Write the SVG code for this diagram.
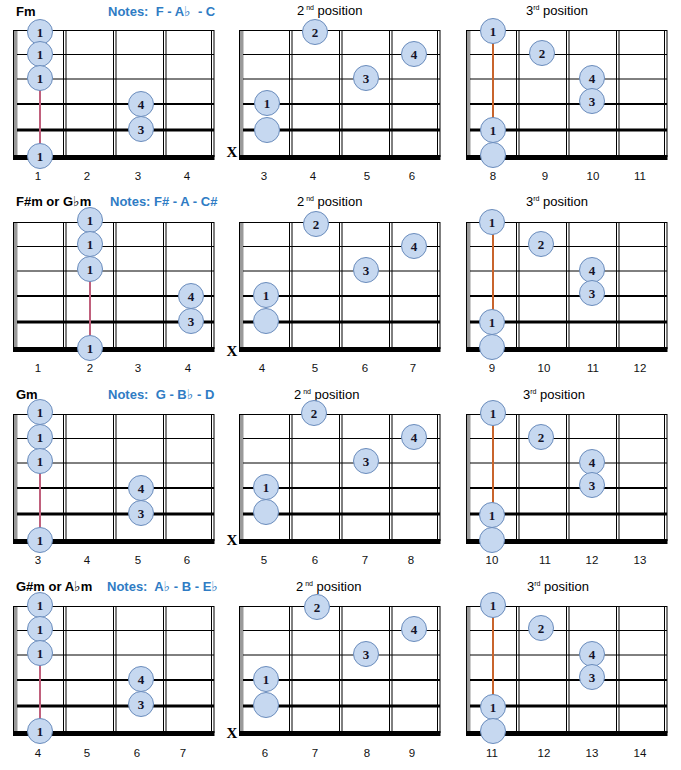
<svg xmlns="http://www.w3.org/2000/svg" xmlns:xlink="http://www.w3.org/1999/xlink" width="681" height="770" viewBox="0 0 681 770">
<style>
.bg{fill:#ffffff}
.str{stroke:#000;fill:none}
.fret{stroke:#000;stroke-width:1;fill:none}
.f{fill:#c6d8f0;stroke:#6a8cbc;stroke-width:1}
.n{font-family:"Liberation Serif",serif;font-weight:bold;font-size:13px;fill:#14142a;text-anchor:middle}
.t{font-family:"Liberation Sans",Arial,sans-serif;font-weight:bold;font-size:13px;fill:#000}
.notes{font-family:"Liberation Sans","DejaVu Sans",sans-serif;font-weight:bold;font-size:13px;fill:#2f7cc4}
.fl-b{font-family:"DejaVu Sans",sans-serif;font-weight:normal;font-size:14px}
.pos{font-family:"Liberation Sans",Arial,sans-serif;font-size:13px;fill:#000}
.sup{font-size:7px}
.fl{font-family:"Liberation Sans",Arial,sans-serif;font-size:11.5px;fill:#111;text-anchor:middle}
.x{font-family:"Liberation Serif",serif;font-weight:bold;font-size:15px;fill:#000;text-anchor:middle}
.barre1{stroke:#c0607c;stroke-width:2}
.barre3{stroke:#c8642c;stroke-width:2}
</style>
<defs>
<g id="grid">
<rect x="0.5" y="0" width="4" height="127" fill="#9a9a9a"/>
<line x1="0.5" y1="0" x2="0.5" y2="127" stroke="#000" stroke-width="1"/>
<line class="str" x1="0" y1="0.5" x2="201" y2="0.5" stroke-width="1.2"/>
<line class="str" x1="4" y1="24.5" x2="201" y2="24.5" stroke-width="1"/>
<line class="str" x1="4" y1="49" x2="201" y2="49" stroke-width="1"/>
<line class="str" x1="4" y1="74" x2="201" y2="74" stroke-width="2"/>
<line class="str" x1="4" y1="100" x2="201" y2="100" stroke-width="3"/>
<line class="fret" x1="50.5" y1="0" x2="50.5" y2="127"/>
<line class="fret" x1="53" y1="0" x2="53" y2="127"/>
<line class="fret" x1="100.5" y1="0" x2="100.5" y2="127"/>
<line class="fret" x1="103" y1="0" x2="103" y2="127"/>
<line class="fret" x1="150.5" y1="0" x2="150.5" y2="127"/>
<line class="fret" x1="153" y1="0" x2="153" y2="127"/>
<line class="fret" x1="198.5" y1="0" x2="198.5" y2="127"/>
<line class="fret" x1="201" y1="0" x2="201" y2="127"/>
<line class="str" x1="0" y1="127.5" x2="201.5" y2="127.5" stroke-width="5"/>
</g>
</defs>
<rect class="bg" x="0" y="0" width="681" height="770"/>

<g id="grids">
<use xlink:href="#grid" x="13" y="30"/>
<use xlink:href="#grid" x="239" y="30"/>
<use xlink:href="#grid" x="466" y="30"/>
<use xlink:href="#grid" x="13" y="222"/>
<use xlink:href="#grid" x="239" y="222"/>
<use xlink:href="#grid" x="466" y="222"/>
<use xlink:href="#grid" x="13" y="414"/>
<use xlink:href="#grid" x="239" y="414"/>
<use xlink:href="#grid" x="466" y="414"/>
<use xlink:href="#grid" x="13" y="606"/>
<use xlink:href="#grid" x="239" y="606"/>
<use xlink:href="#grid" x="466" y="606"/>
</g>

<g id="connectors">
<line class="barre1" x1="40" y1="78" x2="40" y2="156"/>
<line class="barre3" x1="493" y1="31" x2="493" y2="130"/>
<line class="barre1" x1="90" y1="270" x2="90" y2="348"/>
<line class="barre3" x1="493" y1="223" x2="493" y2="322"/>
<line class="barre1" x1="40" y1="462" x2="40" y2="540"/>
<line class="barre3" x1="493" y1="415" x2="493" y2="514"/>
<line class="barre1" x1="40" y1="654" x2="40" y2="732"/>
<line class="barre3" x1="493" y1="607" x2="493" y2="706"/>
</g>

<g id="titles">
<text class="t" x="16" y="16">Fm</text>
<text class="notes" x="108" y="16" xml:space="preserve">Notes:  F - A<tspan class="fl-b">♭</tspan>  - C</text>
<text class="pos" x="297" y="15">2<tspan class="sup" dy="-5"> nd</tspan><tspan dy="5"> position</tspan></text>
<text class="pos" x="526" y="15">3<tspan class="sup" dy="-5">rd</tspan><tspan dy="5"> position</tspan></text>

<text class="t" x="16" y="206">F#m or G<tspan class="fl-b" font-size="13">♭</tspan>m</text>
<text class="notes" x="110" y="206" xml:space="preserve">Notes: F# - A - C#</text>
<text class="pos" x="297" y="206">2<tspan class="sup" dy="-5"> nd</tspan><tspan dy="5"> position</tspan></text>
<text class="pos" x="526" y="206">3<tspan class="sup" dy="-5">rd</tspan><tspan dy="5"> position</tspan></text>

<text class="t" x="16" y="399">Gm</text>
<text class="notes" x="108" y="399" xml:space="preserve">Notes:  G - B<tspan class="fl-b">♭</tspan> - D</text>
<text class="pos" x="294" y="399">2<tspan class="sup" dy="-5"> nd</tspan><tspan dy="5"> position</tspan></text>
<text class="pos" x="523" y="399">3<tspan class="sup" dy="-5">rd</tspan><tspan dy="5"> position</tspan></text>

<text class="t" x="16" y="591">G#m or A<tspan class="fl-b" font-size="13">♭</tspan>m</text>
<text class="notes" x="107" y="591" xml:space="preserve">Notes:  A<tspan class="fl-b">♭</tspan> - B - E<tspan class="fl-b">♭</tspan></text>
<text class="pos" x="296" y="591">2<tspan class="sup" dy="-5"> nd</tspan><tspan dy="5"> position</tspan></text>
<text class="pos" x="527" y="591">3<tspan class="sup" dy="-5">rd</tspan><tspan dy="5"> position</tspan></text>
</g>

<!-- Row 1 -->
<g id="fm-1" transform="translate(13,30)">
<circle class="f" cx="27" cy="2" r="12.5"/><text class="n" x="27" y="6.5">1</text>
<circle class="f" cx="27" cy="24" r="12.5"/><text class="n" x="27" y="28.5">1</text>
<circle class="f" cx="27" cy="48" r="12.5"/><text class="n" x="27" y="52.5">1</text>
<circle class="f" cx="128" cy="74" r="12.5"/><text class="n" x="128" y="78.5">4</text>
<circle class="f" cx="128" cy="99" r="12.5"/><text class="n" x="128" y="103.5">3</text>
<circle class="f" cx="27" cy="126" r="12.5"/><text class="n" x="27" y="130.5">1</text>
<text class="fl" x="25" y="150">1</text><text class="fl" x="74" y="150">2</text><text class="fl" x="125" y="150">3</text><text class="fl" x="174" y="150">4</text>
</g>
<g id="fm-2" transform="translate(239,30)">
<circle class="f" cx="76" cy="2" r="12.5"/><text class="n" x="76" y="6.5">2</text>
<circle class="f" cx="175" cy="24" r="12.5"/><text class="n" x="175" y="28.5">4</text>
<circle class="f" cx="127" cy="48" r="12.5"/><text class="n" x="127" y="52.5">3</text>
<circle class="f" cx="28" cy="73" r="12.5"/><text class="n" x="28" y="77.5">1</text>
<circle class="f" cx="28" cy="100" r="12.5"/>
<text class="x" x="-7" y="127">X</text>
<text class="fl" x="25" y="150">3</text><text class="fl" x="74" y="150">4</text><text class="fl" x="128" y="150">5</text><text class="fl" x="173" y="150">6</text>
</g>
<g id="fm-3" transform="translate(466,30)">
<circle class="f" cx="27" cy="1" r="12.5"/><text class="n" x="27" y="5.5">1</text>
<circle class="f" cx="76" cy="23" r="12.5"/><text class="n" x="76" y="27.5">2</text>
<circle class="f" cx="126" cy="48" r="12.5"/><text class="n" x="126" y="52.5">4</text>
<circle class="f" cx="126" cy="71" r="12.5"/><text class="n" x="126" y="75.5">3</text>
<circle class="f" cx="27" cy="100" r="12.5"/><text class="n" x="27" y="104.5">1</text>
<circle class="f" cx="27" cy="125" r="12.5"/>
<text class="fl" x="27" y="150">8</text><text class="fl" x="79" y="150">9</text><text class="fl" x="127" y="150">10</text><text class="fl" x="174" y="150">11</text>
</g>

<!-- Row 2 -->
<g id="fsm-1" transform="translate(13,222)">
<circle class="f" cx="77" cy="-2" r="12.5"/><text class="n" x="77" y="2.5">1</text>
<circle class="f" cx="77" cy="22" r="12.5"/><text class="n" x="77" y="26.5">1</text>
<circle class="f" cx="77" cy="47" r="12.5"/><text class="n" x="77" y="51.5">1</text>
<circle class="f" cx="178" cy="74" r="12.5"/><text class="n" x="178" y="78.5">4</text>
<circle class="f" cx="178" cy="99" r="12.5"/><text class="n" x="178" y="103.5">3</text>
<circle class="f" cx="77" cy="126" r="12.5"/><text class="n" x="77" y="130.5">1</text>
<text class="fl" x="25" y="150">1</text><text class="fl" x="77" y="150">2</text><text class="fl" x="125" y="150">3</text><text class="fl" x="175" y="150">4</text>
</g>
<g id="fsm-2" transform="translate(239,222)">
<circle class="f" cx="77" cy="2" r="12.5"/><text class="n" x="77" y="6.5">2</text>
<circle class="f" cx="175" cy="24" r="12.5"/><text class="n" x="175" y="28.5">4</text>
<circle class="f" cx="127" cy="48" r="12.5"/><text class="n" x="127" y="52.5">3</text>
<circle class="f" cx="27" cy="73" r="12.5"/><text class="n" x="27" y="77.5">1</text>
<circle class="f" cx="27" cy="99" r="12.5"/>
<text class="x" x="-7" y="134">X</text>
<text class="fl" x="23" y="150">4</text><text class="fl" x="76" y="150">5</text><text class="fl" x="126" y="150">6</text><text class="fl" x="174" y="150">7</text>
</g>
<g id="fsm-3" transform="translate(466,222)">
<circle class="f" cx="26" cy="0" r="12.5"/><text class="n" x="26" y="4.5">1</text>
<circle class="f" cx="75" cy="22" r="12.5"/><text class="n" x="75" y="26.5">2</text>
<circle class="f" cx="126" cy="48" r="12.5"/><text class="n" x="126" y="52.5">4</text>
<circle class="f" cx="126" cy="71" r="12.5"/><text class="n" x="126" y="75.5">3</text>
<circle class="f" cx="26" cy="100" r="12.5"/><text class="n" x="26" y="104.5">1</text>
<circle class="f" cx="26" cy="125" r="12.5"/>
<text class="fl" x="26" y="150">9</text><text class="fl" x="78" y="150">10</text><text class="fl" x="127" y="150">11</text><text class="fl" x="174" y="150">12</text>
</g>

<!-- Row 3 -->
<g id="gm-1" transform="translate(13,414)">
<circle class="f" cx="27" cy="-2" r="12.5"/><text class="n" x="27" y="2.5">1</text>
<circle class="f" cx="27" cy="23" r="12.5"/><text class="n" x="27" y="27.5">1</text>
<circle class="f" cx="27" cy="47" r="12.5"/><text class="n" x="27" y="51.5">1</text>
<circle class="f" cx="128" cy="74" r="12.5"/><text class="n" x="128" y="78.5">4</text>
<circle class="f" cx="128" cy="99" r="12.5"/><text class="n" x="128" y="103.5">3</text>
<circle class="f" cx="27" cy="126" r="12.5"/><text class="n" x="27" y="130.5">1</text>
<text class="fl" x="25" y="150">3</text><text class="fl" x="74" y="150">4</text><text class="fl" x="125" y="150">5</text><text class="fl" x="174" y="150">6</text>
</g>
<g id="gm-2" transform="translate(239,414)">
<circle class="f" cx="75" cy="-1" r="12.5"/><text class="n" x="75" y="3.5">2</text>
<circle class="f" cx="175" cy="23" r="12.5"/><text class="n" x="175" y="27.5">4</text>
<circle class="f" cx="127" cy="47" r="12.5"/><text class="n" x="127" y="51.5">3</text>
<circle class="f" cx="27" cy="73" r="12.5"/><text class="n" x="27" y="77.5">1</text>
<circle class="f" cx="27" cy="98" r="12.5"/>
<text class="x" x="-7" y="131">X</text>
<text class="fl" x="25" y="150">5</text><text class="fl" x="76" y="150">6</text><text class="fl" x="126" y="150">7</text><text class="fl" x="172" y="150">8</text>
</g>
<g id="gm-3" transform="translate(466,414)">
<circle class="f" cx="27" cy="-1" r="12.5"/><text class="n" x="27" y="3.5">1</text>
<circle class="f" cx="75" cy="23" r="12.5"/><text class="n" x="75" y="27.5">2</text>
<circle class="f" cx="126" cy="48" r="12.5"/><text class="n" x="126" y="52.5">4</text>
<circle class="f" cx="126" cy="71" r="12.5"/><text class="n" x="126" y="75.5">3</text>
<circle class="f" cx="26" cy="101" r="12.5"/><text class="n" x="26" y="105.5">1</text>
<circle class="f" cx="26" cy="126" r="12.5"/>
<text class="fl" x="26" y="150">10</text><text class="fl" x="79" y="150">11</text><text class="fl" x="126" y="150">12</text><text class="fl" x="174" y="150">13</text>
</g>

<!-- Row 4 -->
<g id="gsm-1" transform="translate(13,606)">
<circle class="f" cx="27" cy="-1" r="12.5"/><text class="n" x="27" y="3.5">1</text>
<circle class="f" cx="27" cy="23" r="12.5"/><text class="n" x="27" y="27.5">1</text>
<circle class="f" cx="27" cy="47" r="12.5"/><text class="n" x="27" y="51.5">1</text>
<circle class="f" cx="128" cy="73" r="12.5"/><text class="n" x="128" y="77.5">4</text>
<circle class="f" cx="128" cy="98" r="12.5"/><text class="n" x="128" y="102.5">3</text>
<circle class="f" cx="27" cy="125" r="12.5"/><text class="n" x="27" y="129.5">1</text>
<text class="fl" x="25" y="151">4</text><text class="fl" x="74" y="151">5</text><text class="fl" x="124" y="151">6</text><text class="fl" x="170" y="151">7</text>
</g>
<g id="gsm-2" transform="translate(239,606)">
<circle class="f" cx="78" cy="1" r="12.5"/><text class="n" x="78" y="5.5">2</text>
<circle class="f" cx="175" cy="23" r="12.5"/><text class="n" x="175" y="27.5">4</text>
<circle class="f" cx="127" cy="48" r="12.5"/><text class="n" x="127" y="52.5">3</text>
<circle class="f" cx="27" cy="73" r="12.5"/><text class="n" x="27" y="77.5">1</text>
<circle class="f" cx="27" cy="99" r="12.5"/>
<text class="x" x="-7" y="132">X</text>
<text class="fl" x="26" y="151">6</text><text class="fl" x="76" y="151">7</text><text class="fl" x="128" y="151">8</text><text class="fl" x="173" y="151">9</text>
</g>
<g id="gsm-3" transform="translate(466,606)">
<circle class="f" cx="27" cy="-1" r="12.5"/><text class="n" x="27" y="3.5">1</text>
<circle class="f" cx="75" cy="22" r="12.5"/><text class="n" x="75" y="26.5">2</text>
<circle class="f" cx="126" cy="48" r="12.5"/><text class="n" x="126" y="52.5">4</text>
<circle class="f" cx="126" cy="71" r="12.5"/><text class="n" x="126" y="75.5">3</text>
<circle class="f" cx="27" cy="101" r="12.5"/><text class="n" x="27" y="105.5">1</text>
<circle class="f" cx="27" cy="125" r="12.5"/>
<text class="fl" x="26" y="151">11</text><text class="fl" x="78" y="151">12</text><text class="fl" x="126" y="151">13</text><text class="fl" x="174" y="151">14</text>
</g>
</svg>
